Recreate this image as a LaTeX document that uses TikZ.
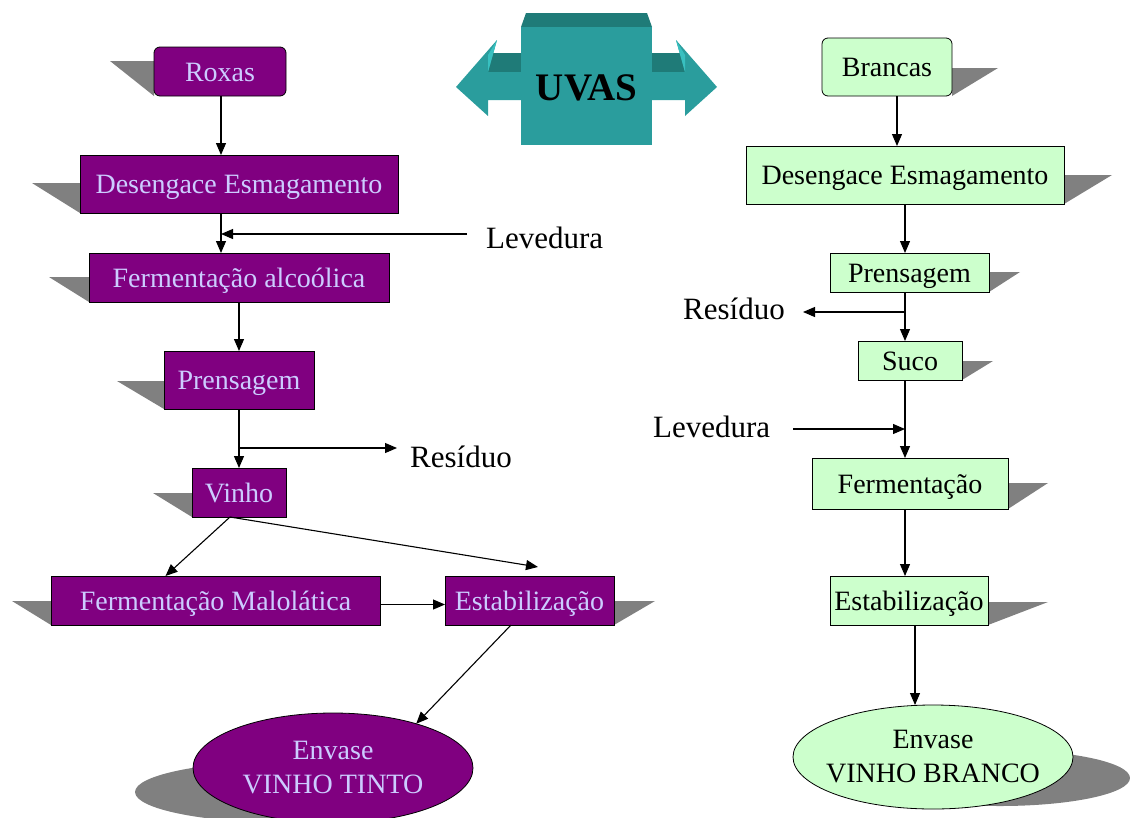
\documentclass[tikz,border=0pt]{standalone}
\usepackage{fontspec}
\setmainfont{Liberation Serif}
\usetikzlibrary{arrows.meta,shapes.geometric}
\pgfdeclarelayer{bg}
\pgfsetlayers{bg,main}
\definecolor{pur}{RGB}{128,0,128}
\definecolor{lav}{RGB}{204,204,255}
\definecolor{grn}{RGB}{204,255,204}
\definecolor{shd}{RGB}{128,128,128}
\definecolor{tealA}{RGB}{42,157,157}
\definecolor{tealB}{RGB}{31,123,120}
\definecolor{tealC}{RGB}{56,192,192}
\newcommand\shL[3]{\fill[shad] (#1.south west) -- ++(0,-#3) -- ++(-#2,0) -- cycle;}
\newcommand\shR[3]{\fill[shad] (#1.south east) -- ++(0,-#3) -- ++(#2,0) -- cycle;}
\begin{document}
\begin{tikzpicture}[x=1pt,y=-1pt,
  box/.style={draw=black, line width=0.8pt, inner sep=0pt, outer sep=0pt, font=\fontsize{28}{30}\selectfont},
  rbox/.style={box, text height=19pt, text depth=0pt},
  pbox/.style={rbox, fill=pur, text=lav},
  gbox/.style={rbox, fill=grn, text=black},
  ell/.style={box, ellipse, align=center, inner xsep=-30pt, font=\fontsize{28}{34}\selectfont},
  shad/.style={fill=shd},
  arr/.style={line width=1.1pt, -{Triangle[length=12pt,width=10pt]}},
  lbl/.style={font=\fontsize{31}{33}\selectfont, inner sep=0pt, text=black},
]
\useasboundingbox (0,0) rectangle (1130,817);

% ---- UVAS 3D block with double arrow ----
\fill[tealB] (488,53) -- (521,53) -- (521,72) -- (488,72) -- cycle;
\fill[tealA] (456,87) -- (497,40) -- (488,72) -- (521,72) -- (521,100) -- (488,100) -- (488,116) -- cycle;
\fill[tealC] (497,40) -- (488,55) -- (488,72) -- cycle;
\fill[tealB] (685,53) -- (652,53) -- (652,72) -- (685,72) -- cycle;
\fill[tealA] (717,87) -- (676,40) -- (685,72) -- (652,72) -- (652,100) -- (685,100) -- (685,116) -- cycle;
\fill[tealC] (676,40) -- (685,55) -- (685,72) -- cycle;
\fill[tealB] (526,13) -- (647,13) -- (652,27) -- (521,27) -- cycle;
\fill[tealA] (521,27) rectangle (652,145);
\node[font=\bfseries\fontsize{39}{41}\selectfont, text=black] (uvas) at (586.5,88) {UVAS};

% ---- left column (red wine) ----
\node[pbox, rounded corners=6pt, minimum width=132, minimum height=49] (rox) at (220,71.5) {Roxas};
\node[pbox, minimum width=318, minimum height=58] (des1) at (239,184) {Desengace Esmagamento};
\node[pbox, minimum width=300, minimum height=49] (fal) at (239,277.5) {Fermentação alcoólica};
\node[pbox, minimum width=150, minimum height=58] (pre1) at (239,380) {Prensagem};
\node[pbox, minimum width=94, minimum height=49] (vin) at (239,492.5) {Vinho};
\node[pbox, minimum width=329, minimum height=49] (mal) at (215.5,600.5) {Fermentação Malolática};
\node[pbox, minimum width=169, minimum height=49] (est1) at (529.5,600.5) {Estabilização};
\node[ell, fill=pur, text=lav, minimum width=280, minimum height=110] (tinto) at (333,768) {Envase\\VINHO TINTO};

\node[lbl, anchor=base west] (lev1) at (486,248) {Levedura};
\node[lbl, anchor=base west] (res1) at (410,467) {Resíduo};

% ---- right column (white wine) ----
\node[gbox, rounded corners=6pt, minimum width=130, minimum height=58] (bra) at (887,67) {Brancas};
\node[gbox, minimum width=318, minimum height=58] (des2) at (905,175) {Desengace Esmagamento};
\node[gbox, minimum width=159, minimum height=39] (pre2) at (909.5,272.5) {Prensagem};
\node[gbox, minimum width=104, minimum height=39] (suc) at (910,360.5) {Suco};
\node[gbox, minimum width=196, minimum height=51] (fer) at (910,483.5) {Fermentação};
\node[gbox, minimum width=158, minimum height=49] (est2) at (909,600.5) {Estabilização};
\node[ell, fill=grn, text=black, minimum width=280, minimum height=104] (branco) at (933,757) {Envase\\VINHO BRANCO};

\node[lbl, anchor=base east] (res2) at (785,319) {Resíduo};
\node[lbl, anchor=base west] (lev2) at (653,437) {Levedura};

% ---- shadows ----
\begin{pgfonlayer}{bg}
\shL{rox}{44}{35}
\shL{des1}{48}{30}
\shL{fal}{40}{25}
\shL{pre1}{47}{28}
\shL{vin}{39}{24}
\shL{mal}{39}{24}
\shR{est1}{41}{24}
\fill[shad] (290,792) ellipse [x radius=155, y radius=31];
\shR{bra}{46}{28}
\shR{des2}{48}{29}
\shR{pre2}{31}{20}
\shR{suc}{31}{19}
\shR{fer}{40}{26}
\shR{est2}{60}{23}
\fill[shad] (1000,778) ellipse [x radius=130, y radius=28];
\end{pgfonlayer}

% ---- connectors left ----
\coordinate (lvA) at (467,234);
\coordinate (lvB) at (221,234);
\coordinate (brA) at (239,448);
\coordinate (brB) at (397,448);
\draw[arr] ([xshift=1]rox.south) -- ([xshift=1]rox.south |- des1.north);
\draw[arr] ([xshift=-18]des1.south) -- ([xshift=-18]des1.south |- fal.north);
\draw[arr] (lvA) -- (lvB);
\draw[arr] (fal.south) -- (pre1.north);
\draw[arr] (pre1.south) -- (vin.north);
\draw[arr] (brA) -- (brB);
\draw[arr] ([xshift=-9]vin.south) -- ([xshift=-50]mal.north);
\draw[arr] ([xshift=-9]vin.south) -- ([shift={(8.5,-9)}]est1.north);
\draw[arr] ([yshift=-4]mal.east) -- ([yshift=-4]est1.west);
\draw[arr] ([xshift=-18.5]est1.south) -- (tinto.28);

% ---- connectors right ----
\coordinate (brC) at (905,312);
\coordinate (brD) at (803,312);
\coordinate (lvC) at (793,429);
\coordinate (lvD) at (905,429);
\draw[arr] ([xshift=10]bra.south) -- ([xshift=10]bra.south |- des2.north);
\draw[arr] (des2.south) -- (des2.south |- pre2.north);
\draw[arr] (des2.south |- pre2.south) -- (des2.south |- suc.north);
\draw[arr] (brC) -- (brD);
\draw[arr] (des2.south |- suc.south) -- (des2.south |- fer.north);
\draw[arr] (lvC) -- (lvD);
\draw[arr] (des2.south |- fer.south) -- (des2.south |- est2.north);
\draw[arr] ([xshift=6]est2.south) -- ([xshift=6]est2.south |- branco.north);
\end{tikzpicture}
\end{document}
